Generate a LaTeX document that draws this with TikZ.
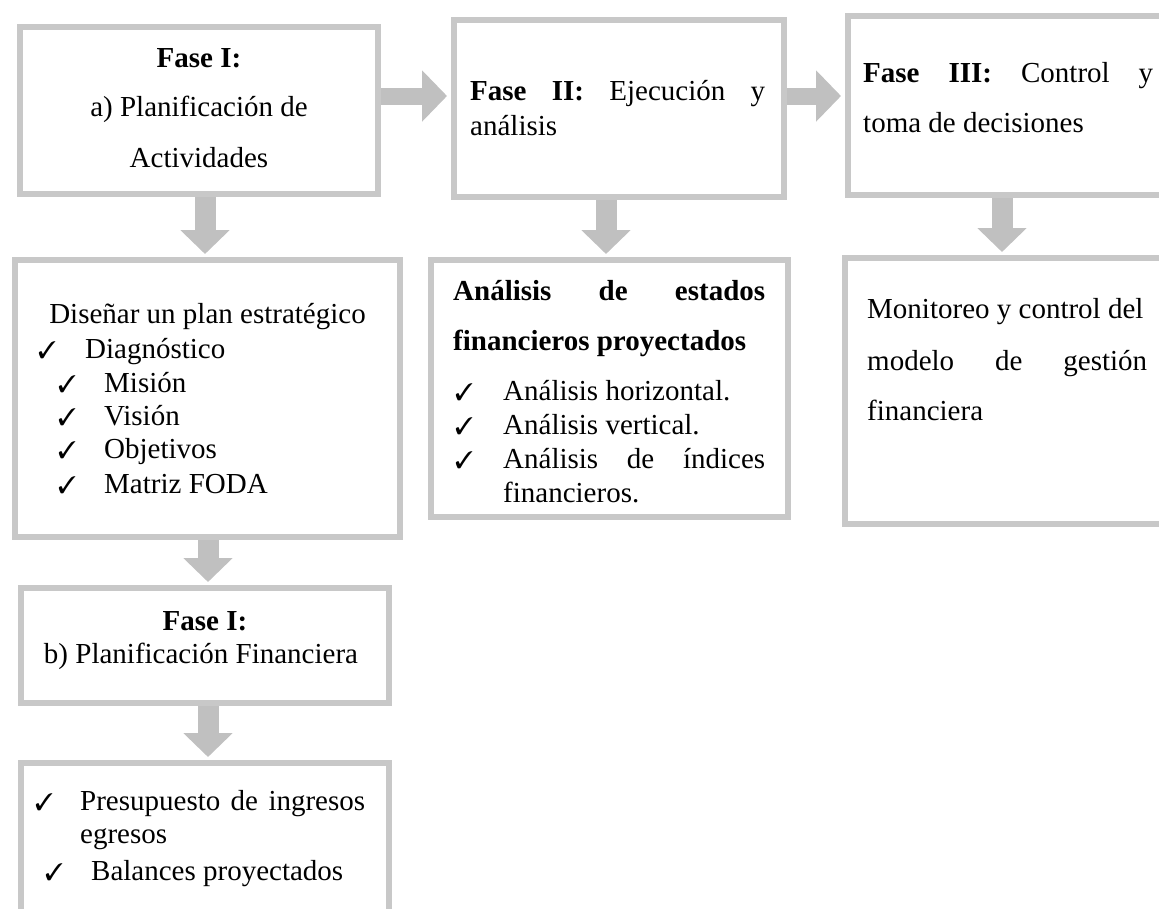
\documentclass[tikz,border=0pt]{standalone}
\usepackage{fontspec}
\setmainfont{Liberation Serif}
\usepackage{pifont}
\usetikzlibrary{arrows.meta}
\definecolor{bordergray}{RGB}{200,200,200}
\definecolor{arrowgray}{RGB}{192,192,192}
\newcommand{\ck}{{\fontsize{24}{24}\selectfont\ding{51}}}
\begin{document}
\begin{tikzpicture}[x=1pt,y=-1pt,
  box/.style={draw=bordergray, line width=6pt, fill=white, inner sep=0pt},
  txt/.style={inner sep=0pt, anchor=base west, font=\fontsize{29}{34}\selectfont},
  ctxt/.style={txt, anchor=base},
  harrow/.style={draw=arrowgray, line width=17pt, -{Triangle[length=25pt,width=50pt]}, shorten >=4pt},
  varrow/.style={draw=arrowgray, line width=21pt, -{Triangle[length=24pt,width=48pt]}, shorten >=3pt}]
\fill[white] (0,0) rectangle (1159,908);
\useasboundingbox (0,0) rectangle (1159,908);

% boxes
\node[box, minimum width=358pt, minimum height=167pt] (A) at (199,110.5) {};
\node[box, minimum width=330pt, minimum height=177pt] (B) at (619,108.5) {};
\node[box, minimum width=324pt, minimum height=179pt] (C) at (1010,105.5) {};
\node[box, minimum width=385pt, minimum height=277pt] (D) at (207.5,398.5) {};
\node[box, minimum width=357pt, minimum height=257pt] (E) at (609.5,388.5) {};
\node[box, minimum width=327pt, minimum height=266pt] (F) at (1008.5,391) {};
\node[box, minimum width=368pt, minimum height=115pt] (G) at (205,645.5) {};
\node[box, minimum width=368pt, minimum height=174pt] (H) at (205,850) {};

% arrows
\coordinate (hy) at (0,96);
\coordinate (xad) at (205,0);
\coordinate (xdg) at (208,0);
\coordinate (xbe) at (606,0);
\coordinate (xcf) at (1002,0);
\draw[harrow] (A.east |- hy) -- (B.west |- hy);
\draw[harrow] (B.east |- hy) -- (C.west |- hy);
\draw[varrow] (xad |- A.south) -- (xad |- D.north);
\draw[varrow] (xdg |- D.south) -- (xdg |- G.north);
\draw[varrow] (xdg |- G.south) -- (xdg |- H.north);
\draw[varrow] (xbe |- B.south) -- (xbe |- E.north);
\draw[varrow] (xcf |- C.south) -- (xcf |- F.north);

% texts A
\node[ctxt] (a1) at (199,67) {\textbf{Fase I:}};
\node[ctxt] (a2) at (199,116) {a) Planificación de};
\node[ctxt] (a3) at (199,167) {Actividades};
% B
\node[txt] (b1) at (470,100) {\makebox[295pt][s]{\textbf{Fase II:} Ejecución y}};
\node[txt] (b2) at (470,135) {análisis};
% C
\node[txt] (c1) at (863,82) {\makebox[290pt][s]{\textbf{Fase III:} Control y}};
\node[txt] (c2) at (863,132) {toma de decisiones};
% D
\node[ctxt] (d1) at (207.5,323) {Diseñar un plan estratégico};
\node[txt] (d2c) at (38,358) {\ck};
\node[txt] (d2) at (85,358) {Diagnóstico};
\node[txt] (d3c) at (58,392) {\ck};
\node[txt] (d3) at (104,392) {Misión};
\node[txt] (d4c) at (58,425) {\ck};
\node[txt] (d4) at (104,425) {Visión};
\node[txt] (d5c) at (58,458) {\ck};
\node[txt] (d5) at (104,458) {Objetivos};
\node[txt] (d6c) at (58,493) {\ck};
\node[txt] (d6) at (104,493) {Matriz FODA};
% E
\node[txt] (e1) at (453,300) {\makebox[312pt][s]{\textbf{Análisis de estados}}};
\node[txt] (e2) at (453,350) {\textbf{financieros proyectados}};
\node[txt] (e3c) at (455,400) {\ck};
\node[txt] (e3) at (503,400) {Análisis horizontal.};
\node[txt] (e4c) at (455,434) {\ck};
\node[txt] (e4) at (503,434) {Análisis vertical.};
\node[txt] (e5c) at (455,468) {\ck};
\node[txt] (e5) at (503,468) {\makebox[262pt][s]{Análisis de índices}};
\node[txt] (e6) at (503,502) {financieros.};
% F
\node[txt] (f1) at (867,318) {Monitoreo y control del};
\node[txt] (f2) at (867,370) {\makebox[280pt][s]{modelo de gestión}};
\node[txt] (f3) at (867,420) {financiera};
% G
\node[ctxt] (g1) at (205,630) {\textbf{Fase I:}};
\node[ctxt] (g2) at (201,663) {b) Planificación Financiera};
% H
\node[txt] (h1c) at (35,810) {\ck};
\node[txt] (h1) at (80,810) {\makebox[285pt][s]{Presupuesto de ingresos}};
\node[txt] (h2) at (80,843) {egresos};
\node[txt] (h3c) at (45,880) {\ck};
\node[txt] (h3) at (91,880) {Balances proyectados};
\end{tikzpicture}
\end{document}
